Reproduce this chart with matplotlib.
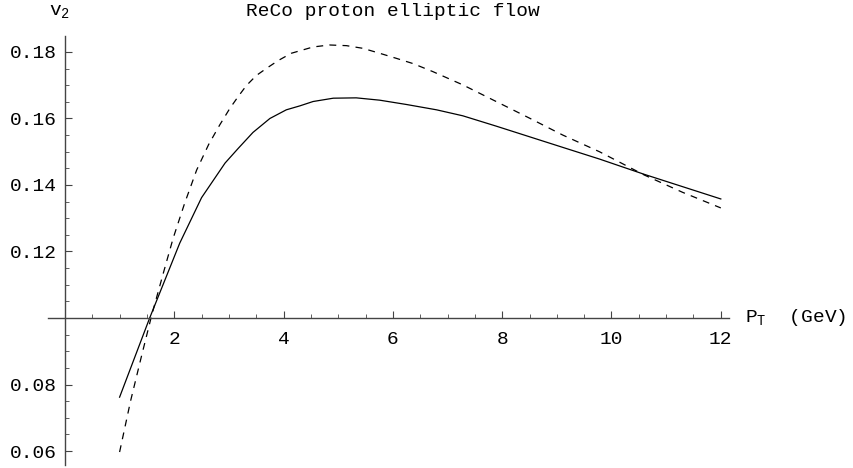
import numpy as np
import matplotlib
matplotlib.use('Agg')
import matplotlib.pyplot as plt
from matplotlib.ticker import MultipleLocator, FixedLocator

plt.rcParams['font.family'] = ['Liberation Mono', 'DejaVu Sans Mono']
plt.rcParams['mathtext.fontset'] = 'custom'
plt.rcParams['mathtext.rm'] = 'Liberation Mono'
plt.rcParams['mathtext.it'] = 'Liberation Mono'

# solid curve
pt_solid = [1.0, 1.55, 2.10, 2.50, 2.93, 3.17, 3.44, 3.75, 4.05, 4.30, 4.54, 4.91, 5.33,
            5.76, 6.25, 6.80, 7.28, 7.89, 8.50, 9.11, 9.78, 10.6, 12.0]
v2_solid = [0.0762, 0.1000, 0.1225, 0.1362, 0.1466, 0.1510, 0.1558, 0.1600, 0.1626, 0.1638,
            0.1651, 0.1661, 0.1662, 0.1655, 0.1642, 0.1626, 0.1608, 0.1577, 0.1545, 0.1513,
            0.1478, 0.1432, 0.1358]

# dashed curve
pt_dash = [1.0, 1.2, 1.4, 1.59, 1.80, 1.98, 2.19, 2.41, 2.63, 2.83, 3.02, 3.17, 3.32, 3.50,
           3.69, 3.90, 4.14, 4.54, 4.84, 5.15, 5.45, 5.76, 6.06, 6.37, 6.73, 7.28, 7.89,
           8.50, 9.11, 9.78, 10.6, 11.3, 12.0]
v2_dash = [0.0597, 0.0750, 0.0885, 0.1010, 0.1135, 0.1240, 0.1345, 0.1445, 0.1522, 0.1580,
           0.1631, 0.1666, 0.1699, 0.1729, 0.1751, 0.1774, 0.1796, 0.1815, 0.1821, 0.1819,
           0.1811, 0.1796, 0.1781, 0.1765, 0.1741, 0.1701, 0.1651, 0.1601, 0.1550, 0.1500,
           0.1430, 0.1378, 0.1331]

xticks = [2, 4, 6, 8, 10, 12]
yticks = [0.06, 0.08, 0.12, 0.14, 0.16, 0.18]

W, H = 854, 468
fig = plt.figure(figsize=(W / 100, H / 100), dpi=100)
ax = fig.add_axes([48 / W, 1 - 465 / H, (729 - 48) / W, (465 - 36) / H])
ax.set_xlim(-0.31, 12.15)
ax.set_ylim(0.0558, 0.1848)

ax.plot(pt_solid, v2_solid, color='black', lw=0.9)
ax.plot(pt_dash, v2_dash, color='black', lw=0.9, dashes=(5.5, 5))

for s in ['top', 'right']:
    ax.spines[s].set_visible(False)
ax.spines['left'].set_position(('data', 0))
ax.spines['bottom'].set_position(('data', 0.1))
for s in ['left', 'bottom']:
    ax.spines[s].set_color('#444444')
    ax.spines[s].set_linewidth(1.0)

ax.xaxis.set_major_locator(FixedLocator(xticks))
ax.xaxis.set_minor_locator(MultipleLocator(0.5))
ax.yaxis.set_major_locator(FixedLocator(yticks))
ax.yaxis.set_minor_locator(MultipleLocator(0.005))
ax.set_xticklabels([str(t) for t in xticks])
ax.set_yticklabels(['%.2f' % t for t in yticks])

ax.tick_params(axis='both', which='major', direction='in', length=5, width=0.8,
               color='#444444', labelsize=14)
ax.tick_params(axis='both', which='minor', direction='in', length=3, width=0.6,
               color='#444444')
ax.tick_params(axis='x', which='major', pad=9)
ax.tick_params(axis='y', which='major', pad=6)

fig.text(393 / W, 1 - 12 / H, 'ReCo proton elliptic flow', ha='center', va='center', fontsize=14)
fig.text(60 / W, 1 - 12 / H, r'$\mathrm{v_2}$', ha='center', va='center', fontsize=14)
fig.text(745 / W, 1 - 318 / H, r'$\mathrm{P_T}$  (GeV)', ha='left', va='center', fontsize=14)

fig.savefig('out.png', dpi=100)
